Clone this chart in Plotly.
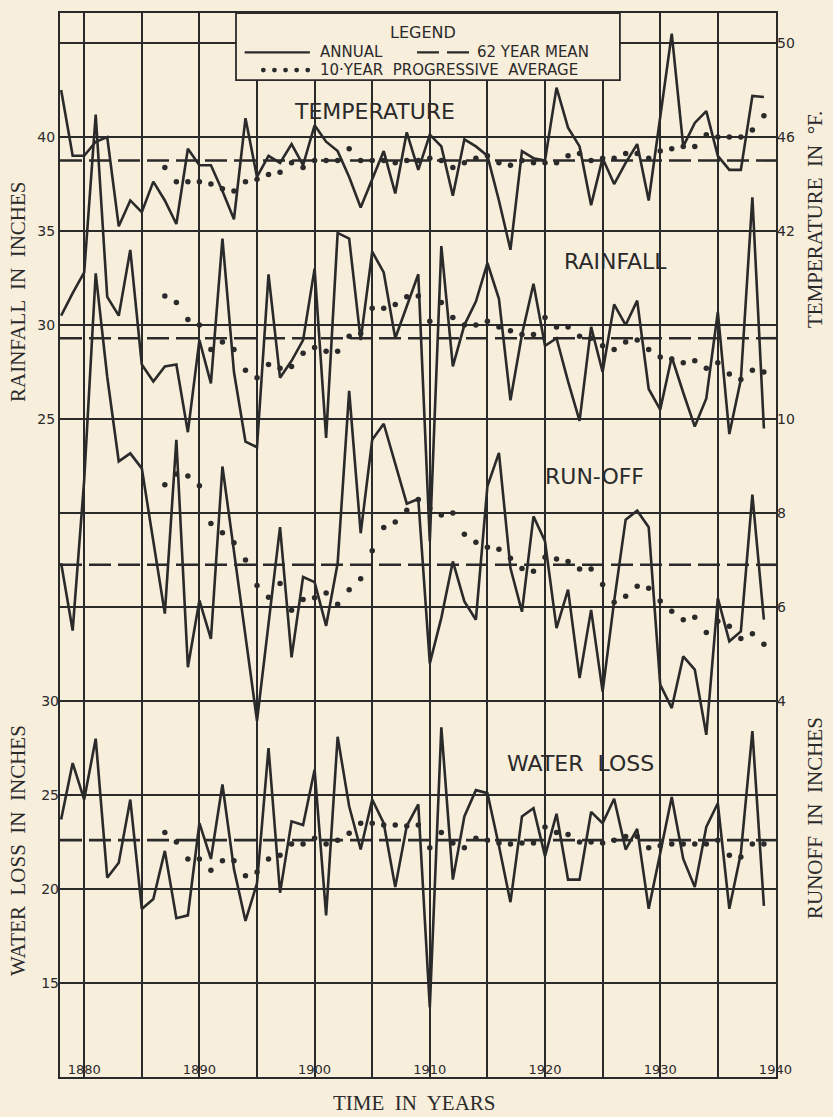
import plotly.graph_objects as go

# ---------------- data ----------------
years = list(range(1878, 1940))          # 62 annual values
avg_years = list(range(1887, 1940))      # 10-year progressive average

temperature = [48.0, 45.2, 45.2, 45.8, 46.0, 42.2, 43.3, 42.8, 44.1, 43.3,
               42.3, 45.5, 44.8, 44.8, 43.7, 42.5, 46.8, 44.3, 45.2, 44.9,
               45.7, 44.8, 46.5, 45.8, 45.4, 44.3, 43.0, 44.2, 45.4, 43.6,
               46.2, 44.6, 46.1, 45.6, 43.5, 45.9, 45.6, 45.2, 43.3, 41.2,
               45.4, 45.1, 45.0, 48.1, 46.4, 45.6, 43.1, 45.1, 44.0, 44.9,
               45.7, 43.3, 46.8, 50.4, 45.6, 46.6, 47.1, 45.2, 44.6, 44.6,
               47.75, 47.7]
temperature_avg = [44.7, 44.1, 44.1, 44.1, 44.0, 43.8, 43.7, 44.1, 44.2, 44.4,
                   44.5, 44.9, 44.7, 45.0, 45.0, 45.0, 45.5, 45.0, 45.0, 45.0,
                   44.9, 45.0, 45.0, 45.1, 45.0, 44.7, 44.9, 45.1, 45.2, 44.9,
                   44.8, 45.0, 44.9, 44.9, 44.9, 45.2, 45.3, 45.0, 45.1, 45.1,
                   45.3, 45.3, 45.1, 45.4, 45.5, 45.6, 45.6, 46.1, 46.0, 46.0,
                   46.0, 46.3, 46.9]
temperature_mean = 45.0

rainfall = [30.5, 31.7, 32.8, 41.2, 31.5, 30.5, 34.0, 27.9, 27.0, 27.8,
            27.9, 24.3, 29.2, 26.9, 34.6, 27.5, 23.8, 23.5, 32.7, 27.2,
            28.1, 29.2, 33.0, 24.0, 34.9, 34.6, 29.2, 33.9, 32.8, 29.3,
            31.0, 32.7, 18.5, 34.2, 27.8, 30.0, 31.25, 33.3, 31.4, 26.0,
            29.5, 32.2, 28.9, 29.3, 27.0, 24.9, 29.9, 27.5, 31.1, 30.0,
            31.3, 26.6, 25.5, 28.3, 26.4, 24.6, 26.1, 30.7, 24.2, 27.1,
            36.8, 24.5]
rainfall_avg = [31.55, 31.2, 30.3, 30.0, 28.7, 29.1, 28.7, 27.6, 27.2, 27.9,
                27.7, 27.8, 28.5, 28.8, 28.6, 28.6, 29.4, 29.55, 30.9, 30.9,
                31.1, 31.5, 31.55, 30.2, 31.2, 30.4, 30.0, 30.0, 30.2, 29.9,
                29.7, 29.5, 29.5, 30.4, 29.9, 29.9, 29.4, 29.3, 28.9, 28.7,
                29.1, 29.2, 28.7, 28.3, 28.2, 28.0, 28.1, 27.7, 28.0, 27.4,
                27.1, 27.6, 27.5]
rainfall_mean = 29.3

runoff = [6.93, 5.5, 8.7, 13.1, 10.9, 9.1, 9.27, 8.95, 7.4, 5.86,
          9.56, 4.72, 6.14, 5.32, 8.99, 7.2, 5.4, 3.58, 5.64, 7.7,
          4.93, 6.64, 6.53, 5.6, 6.93, 10.6, 7.57, 9.56, 9.9, 9.06,
          8.2, 8.3, 4.8, 5.77, 6.97, 6.12, 5.73, 8.57, 9.28, 6.83,
          5.9, 7.93, 7.4, 5.55, 6.37, 4.49, 5.94, 4.2, 6.12, 7.86,
          8.05, 7.7, 4.35, 3.85, 4.95, 4.67, 3.28, 6.19, 5.27, 5.48,
          8.39, 5.73]
runoff_avg = [8.6, 8.83, 8.79, 8.58, 7.78, 7.58, 7.37, 7.0, 6.46, 6.21,
              6.5, 5.93, 6.16, 6.2, 6.3, 6.06, 6.37, 6.6, 7.2, 7.69,
              7.81, 8.06, 8.29, 8.1, 7.96, 8.0, 7.55, 7.38, 7.27, 7.23,
              7.04, 6.82, 6.76, 7.06, 7.02, 6.97, 6.81, 6.81, 6.48, 6.1,
              6.23, 6.44, 6.4, 6.13, 5.91, 5.73, 5.78, 5.46, 5.7, 5.59,
              5.33, 5.43, 5.21]
runoff_mean = 6.9

water_loss = [23.7, 26.7, 24.76, 28.0, 20.6, 21.4, 24.76, 18.94, 19.47, 22.03,
              18.45, 18.6, 23.5, 21.6, 25.56, 21.06, 18.3, 20.3, 27.5, 19.8,
              23.6, 23.4, 26.35, 18.6, 28.1, 24.4, 22.1, 24.76, 23.5, 20.1,
              23.35, 24.5, 13.7, 28.6, 20.5, 23.86, 25.26, 25.1, 22.3, 19.3,
              23.86, 24.3, 21.75, 24.0, 20.5, 20.5, 24.1, 23.5, 24.8, 22.1,
              23.2, 18.95, 21.9, 24.9, 21.6, 20.1, 23.3, 24.56, 18.95, 21.9,
              28.4, 19.1]
water_loss_avg = [23.0, 22.5, 21.6, 21.6, 21.0, 21.5, 21.5, 20.7, 20.9, 21.6,
                  21.8, 22.4, 22.4, 22.7, 22.4, 22.6, 22.96, 23.5, 23.5, 23.4,
                  23.4, 23.35, 23.4, 22.2, 23.0, 22.45, 22.2, 22.7, 22.6, 22.45,
                  22.4, 22.45, 22.45, 23.3, 23.0, 22.9, 22.5, 22.5, 22.45, 22.6,
                  22.8, 22.8, 22.2, 22.3, 22.4, 22.4, 22.4, 22.4, 22.6, 21.8,
                  21.7, 22.4, 22.4]
water_loss_mean = 22.6

x_ticks = list(range(1880, 1941, 5))
x_ticktext = [str(v) if v % 10 == 0 else "" for v in x_ticks]
rain_ticks = [25, 30, 35, 40]
temp_ticks = [42, 46, 50]
runoff_ticks = [4, 6, 8, 10]
wl_ticks = [15, 20, 25, 30]

# ---------------- styling ----------------
BG = "#f8eedc"
INK = "#2a2a2a"
X_START, X_END = 1877.9, 1940.05
mean_x = [X_START, X_END]

fig = go.Figure()

def add_series(vals, avg, mean, axis):
    fig.add_trace(go.Scatter(x=mean_x, y=[mean, mean], yaxis=axis, mode="lines",
                             line=dict(color=INK, width=2.6, dash="22px,7px"),
                             hoverinfo="skip", showlegend=False))
    fig.add_trace(go.Scatter(x=years, y=vals, yaxis=axis, mode="lines",
                             line=dict(color=INK, width=2.6),
                             showlegend=False))
    fig.add_trace(go.Scatter(x=avg_years, y=avg, yaxis=axis, mode="markers",
                             marker=dict(color=INK, size=5.5),
                             showlegend=False))

add_series(temperature, temperature_avg, temperature_mean, "y2")
add_series(rainfall, rainfall_avg, rainfall_mean, "y")
add_series(runoff, runoff_avg, runoff_mean, "y3")
add_series(water_loss, water_loss_avg, water_loss_mean, "y4")

tickfont = dict(family="DejaVu Sans", size=14, color=INK)
xtickfont = dict(family="DejaVu Sans", size=13, color=INK)
grid_vals = list(range(-5, 50, 5))

fig.update_layout(
    width=833, height=1117,
    margin=dict(l=60, r=57, t=13, b=40),
    paper_bgcolor=BG, plot_bgcolor=BG,
    showlegend=False,
    xaxis=dict(range=[X_START, X_END], tickvals=x_ticks, ticktext=x_ticktext,
               ticks="", ticklabelposition="inside", ticklabeloverflow="allow",
               tickfont=xtickfont, showgrid=True, gridcolor=INK, gridwidth=1.6,
               zeroline=False, showline=True, linecolor=INK, linewidth=2.2, mirror=True),
    yaxis=dict(range=[-10, 46.6], tickvals=grid_vals,
               ticktext=[str(v) if v in rain_ticks else "" for v in grid_vals],
               ticks="", tickfont=tickfont, showgrid=True, gridcolor=INK, gridwidth=1.6,
               zeroline=False, showline=True, linecolor=INK, linewidth=2.2, mirror=True,
               side="left"),
    yaxis2=dict(range=[6, 51.277], tickvals=temp_ticks, ticks="", tickfont=tickfont,
                overlaying="y", side="right", showgrid=False, zeroline=False),
    yaxis3=dict(range=[-4, 18.64], tickvals=runoff_ticks, ticks="", tickfont=tickfont,
                overlaying="y", side="right", showgrid=False, zeroline=False),
    yaxis4=dict(range=[10, 66.6], tickvals=wl_ticks, ticks="", tickfont=tickfont,
                overlaying="y", side="left", showgrid=False, zeroline=False),
)

# ---------------- series labels ----------------
label_font = dict(family="DejaVu Sans", size=22, color=INK)
for text, xv, yp in [("TEMPERATURE", 1905.2, 0.907), ("RAINFALL", 1926.1, 0.766),
                     ("RUN-OFF", 1924.3, 0.564), ("WATER  LOSS", 1923.1, 0.295)]:
    fig.add_annotation(text=text, x=xv, y=yp, xref="x", yref="paper",
                       xanchor="center", yanchor="middle",
                       showarrow=False, font=label_font)

# ---------------- axis titles ----------------
title_font = dict(family="Liberation Serif", size=21, color=INK)
for text, xp, yp, ang in [("RAINFALL  IN  INCHES", -0.0587, 0.7387, -90),
                          ("WATER  LOSS  IN  INCHES", -0.0587, 0.2133, -90),
                          ("TEMPERATURE  IN  °F.", 1.0545, 0.8055, -90),
                          ("RUNOFF  IN  INCHES", 1.0545, 0.2434, -90),
                          ("TIME  IN  YEARS", 0.4958, -0.0244, 0)]:
    fig.add_annotation(text=text, x=xp, y=yp, xref="paper", yref="paper",
                       xanchor="center", yanchor="middle", textangle=ang,
                       showarrow=False, font=title_font)

# ---------------- legend box ----------------
fig.add_shape(type="rect", xref="paper", yref="paper", x0=0.2458, x1=0.782, y0=0.937, y1=1.0,
              fillcolor=BG, line=dict(color=INK, width=1.8), layer="above")
leg_font = dict(family="DejaVu Sans", size=15, color=INK)
fig.add_annotation(text="LEGEND", x=0.507, y=0.982, xref="paper", yref="paper",
                   xanchor="center", yanchor="middle",
                   showarrow=False, font=dict(family="DejaVu Sans", size=16, color=INK))
fig.add_shape(type="line", xref="paper", yref="paper", x0=0.258, x1=0.349, y0=0.963, y1=0.963,
              line=dict(color=INK, width=2.4), layer="above")
fig.add_annotation(text="ANNUAL", x=0.360, y=0.963, xref="paper", yref="paper",
                   xanchor="left", yanchor="middle", showarrow=False, font=leg_font)
fig.add_shape(type="line", xref="paper", yref="paper", x0=0.4986, x1=0.5726, y0=0.963, y1=0.963,
              line=dict(color=INK, width=2.4, dash="22px,8px"), layer="above")
fig.add_annotation(text="62 YEAR MEAN", x=0.5796, y=0.963, xref="paper", yref="paper",
                   xanchor="left", yanchor="middle", showarrow=False, font=leg_font)
for i in range(5):
    cx = 0.284 + i * 0.0155
    fig.add_shape(type="circle", xref="paper", yref="paper", xsizemode="pixel", ysizemode="pixel",
                  xanchor=cx, yanchor=0.9464, x0=-2.4, x1=2.4, y0=-2.4, y1=2.4,
                  fillcolor=INK, line=dict(width=0), layer="above")
fig.add_annotation(text="10·YEAR  PROGRESSIVE  AVERAGE", x=0.360, y=0.9464, xref="paper", yref="paper",
                   xanchor="left", yanchor="middle", showarrow=False, font=leg_font)

fig.write_html("out.html", config={"displayModeBar": False},
               post_script="document.body.style.margin='0px';")
